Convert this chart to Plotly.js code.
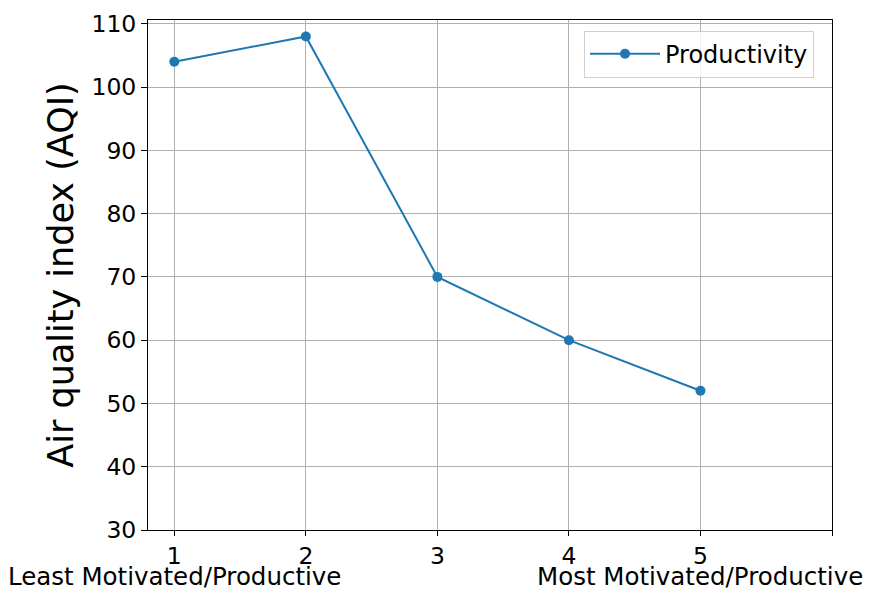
<!DOCTYPE html>
<html>
<head>
<meta charset="utf-8">
<script src="https://cdn.plot.ly/plotly-3.0.1.min.js"></script>
<style>html,body{margin:0;padding:0;background:#fff;}#chart{width:870px;height:592px;}</style>
</head>
<body>
<div id="chart"></div>
<script>
const levels = [1, 2, 3, 4, 5];
const aqi = [104, 108, 70, 60, 52];
const tickVals = [1, 2, 3, 4, 5, 6];
const tickLabels = ["1", "2", "3", "4", "5", ""];
const endLabels = ["Least Motivated/Productive", "Most Motivated/Productive"];
const endLabelPos = [1, 5];
const yTicks = [30, 40, 50, 60, 70, 80, 90, 100, 110];

const trace = {
  x: levels, y: aqi, type: 'scatter', mode: 'lines+markers', name: 'Productivity',
  line: {color: '#1f77b4', width: 2}, marker: {color: '#1f77b4', size: 10}
};
const annotations = endLabels.map((t, i) => ({
  text: t, x: endLabelPos[i], xref: 'x', y: -0.1216, yref: 'paper',
  xanchor: 'center', yanchor: 'bottom', showarrow: false, borderpad: 0,
  font: {family: 'DejaVu Sans', size: 24.5, color: '#000'}
}));
const layout = {
  width: 870, height: 592,
  margin: {l: 148, r: 38, t: 20, b: 62},
  paper_bgcolor: '#fff', plot_bgcolor: '#fff',
  font: {family: 'DejaVu Sans', size: 24, color: '#000'},
  showlegend: true,
  annotations: annotations,
  legend: {x: 0.9737, y: 0.979, xanchor: 'right', yanchor: 'top', bgcolor: 'rgba(255,255,255,0.8)',
           bordercolor: '#d0d0d0', borderwidth: 1, font: {size: 24}, itemwidth: 70},
  xaxis: {range: [0.8, 6], tickmode: 'array', tickvals: tickVals, ticktext: tickLabels,
          tickangle: 0, automargin: false,
          showgrid: true, gridcolor: '#b0b0b0', gridwidth: 1, zeroline: false,
          showline: true, linecolor: '#000', linewidth: 1, mirror: true,
          ticks: 'outside', ticklen: 5, tickcolor: '#000', tickfont: {size: 23.5}},
  yaxis: {range: [30, 110.6], tickmode: 'array', tickvals: yTicks, automargin: false,
          showgrid: true, gridcolor: '#b0b0b0', gridwidth: 1, zeroline: false,
          showline: true, linecolor: '#000', linewidth: 1, mirror: true,
          ticks: 'outside', ticklen: 6, tickcolor: '#000', tickfont: {size: 23.5},
          title: {text: 'Air quality index (AQI)', font: {size: 35}, standoff: 7}}
};
Plotly.newPlot('chart', [trace], layout, {displayModeBar: false});
</script>
</body>
</html>
